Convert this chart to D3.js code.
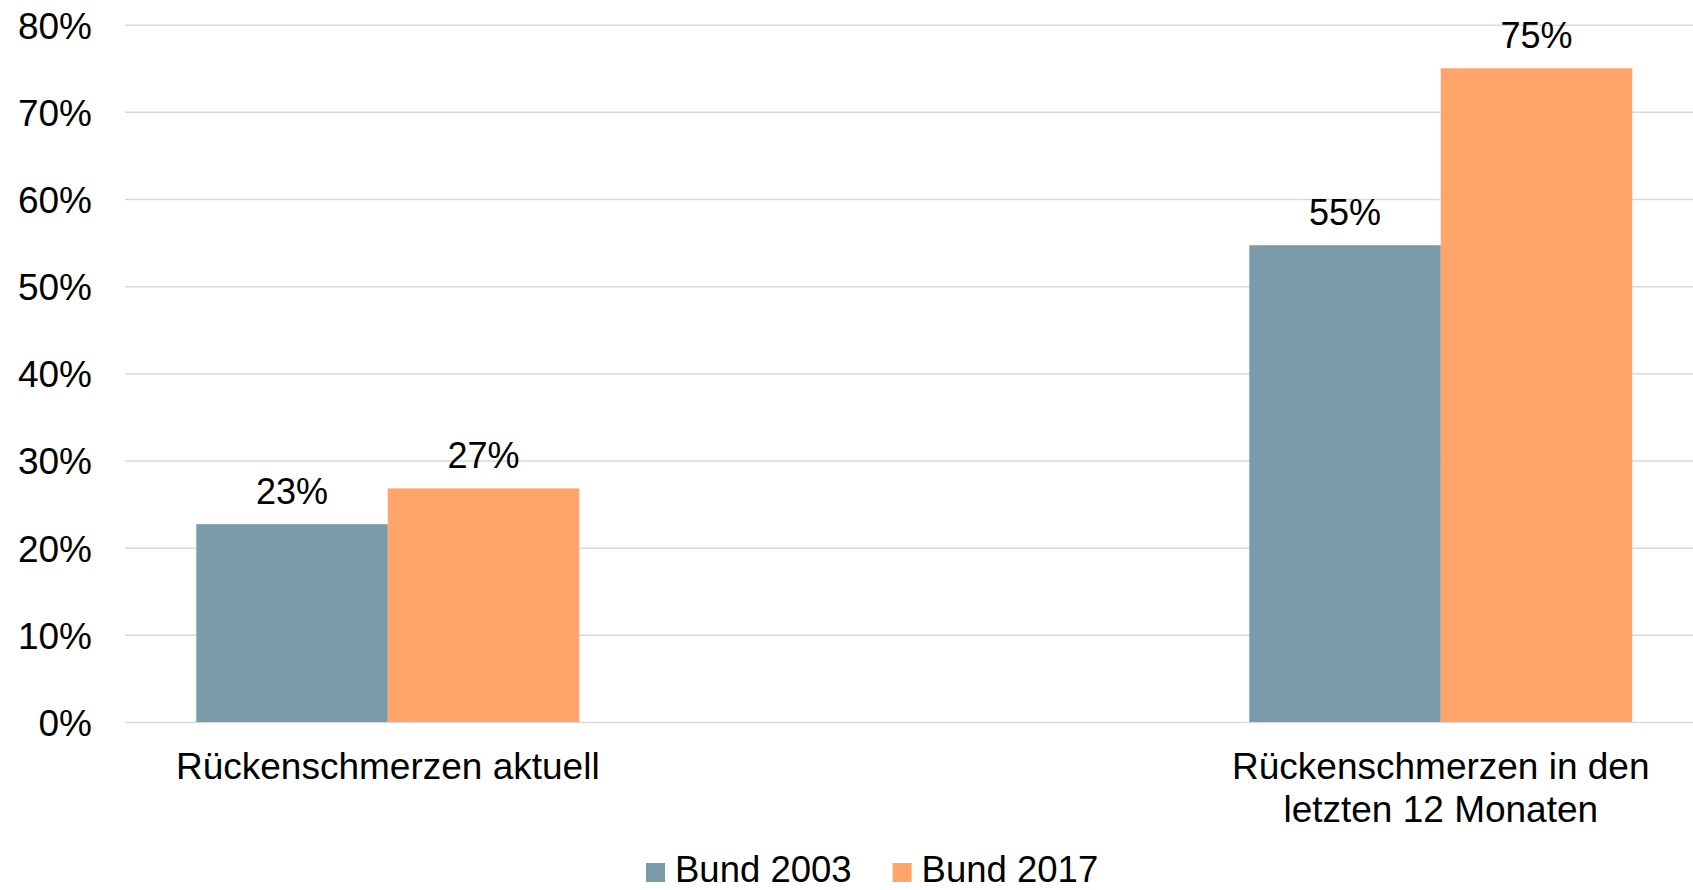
<!DOCTYPE html>
<html>
<head>
<meta charset="utf-8">
<script src="https://cdn.jsdelivr.net/npm/d3@7"></script>
<style>
  html, body { margin: 0; padding: 0; background: #ffffff; }
  svg { display: block; font-family: "Liberation Sans", Arial, Helvetica, sans-serif; }
</style>
</head>
<body>
<svg id="chart" width="1693" height="890"></svg>
<script>
// ---- data ----
const categories = ["Rückenschmerzen aktuell", "Rückenschmerzen in den letzten 12 Monaten"];
const seriesNames = ["Bund 2003", "Bund 2017"];
const bund2003 = [22.7, 54.7];
const bund2017 = [26.8, 75.0];
const dataLabels2003 = ["23%", "55%"];
const dataLabels2017 = ["27%", "75%"];
const yTicks = [0, 10, 20, 30, 40, 50, 60, 70, 80];
const colors = ["#7b9aaa", "#ffa46b"];

// ---- layout ----
const W = 1693, H = 890;
const plot = { left: 125, right: 1693, top: 24.7, bottom: 722 };

const svg = d3.select("#chart");

const y = d3.scaleLinear().domain([0, 80]).range([plot.bottom, plot.top]);

const x0 = d3.scaleBand()
  .domain(categories)
  .range([plot.left, plot.right])
  .paddingInner(0.6363)
  .paddingOuter(0.0627)
  .align(0.54);

const x1 = d3.scaleBand()
  .domain(seriesNames)
  .range([0, x0.bandwidth()])
  .padding(0);

// gridlines
const grid = svg.append("g")
  .attr("transform", `translate(${plot.left},0)`)
  .call(d3.axisRight(y).tickValues(yTicks).tickSize(plot.right - plot.left).tickFormat(""));
grid.select(".domain").remove();
grid.selectAll(".tick line").attr("stroke", "#d9d9d9").attr("stroke-width", 1.5);

// y labels
const yAxis = svg.append("g")
  .attr("transform", `translate(92,0)`)
  .call(d3.axisLeft(y).tickValues(yTicks).tickSize(0).tickPadding(0).tickFormat(d => d + "%"));
yAxis.select(".domain").remove();
yAxis.selectAll("text")
  .attr("font-size", 37)
  .attr("fill", "#000")
  .attr("font-family", "'Liberation Sans', Arial, sans-serif")
  .attr("dy", "0.36em");

// bars
const rows = categories.map((c, i) => ({
  cat: c,
  vals: [
    { s: seriesNames[0], v: bund2003[i], label: dataLabels2003[i], color: colors[0] },
    { s: seriesNames[1], v: bund2017[i], label: dataLabels2017[i], color: colors[1] }
  ]
}));

const groups = svg.append("g").selectAll("g")
  .data(rows).join("g")
  .attr("transform", d => `translate(${x0(d.cat)},0)`);

groups.selectAll("rect")
  .data(d => d.vals).join("rect")
  .attr("x", d => x1(d.s))
  .attr("y", d => y(d.v))
  .attr("width", x1.bandwidth())
  .attr("height", d => y(0) - y(d.v))
  .attr("fill", d => d.color);

groups.selectAll("text.lbl")
  .data(d => d.vals).join("text")
  .attr("class", "lbl")
  .attr("x", d => x1(d.s) + x1.bandwidth() / 2)
  .attr("y", d => y(d.v) - 20)
  .attr("text-anchor", "middle")
  .attr("font-size", 36)
  .attr("fill", "#000")
  .text(d => d.label);

// x axis labels (wrapped)
const xAxis = svg.append("g")
  .attr("transform", `translate(0,${plot.bottom})`)
  .call(d3.axisBottom(x0).tickSize(0).tickPadding(0));
xAxis.select(".domain").remove();
xAxis.selectAll("text")
  .attr("font-size", 37)
  .attr("fill", "#000")
  .attr("font-family", "'Liberation Sans', Arial, sans-serif")
  .attr("y", 57)
  .attr("dy", 0)
  .each(function() {
    const t = d3.select(this);
    const words = t.text().split(/\s+/);
    t.text(null);
    const maxW = 460;
    let line = [];
    let tspan = t.append("tspan").attr("x", 0).attr("dy", 0);
    words.forEach(w => {
      line.push(w);
      tspan.text(line.join(" "));
      if (tspan.node().getComputedTextLength() > maxW && line.length > 1) {
        line.pop();
        tspan.text(line.join(" "));
        line = [w];
        tspan = t.append("tspan").attr("x", 0).attr("dy", 42.5).text(w);
      }
    });
  });

// legend
const legend = svg.append("g").attr("transform", "translate(646,863)");
let lx = 0;
seriesNames.forEach((name, i) => {
  const g = legend.append("g").attr("transform", `translate(${lx},0)`);
  g.append("rect").attr("width", 19).attr("height", 19).attr("fill", colors[i]);
  const t = g.append("text")
    .attr("x", 29).attr("y", 19)
    .attr("font-size", 36.5).attr("fill", "#000")
    .text(name);
  lx += 29 + t.node().getComputedTextLength() + 41;
});
</script>
</body>
</html>
